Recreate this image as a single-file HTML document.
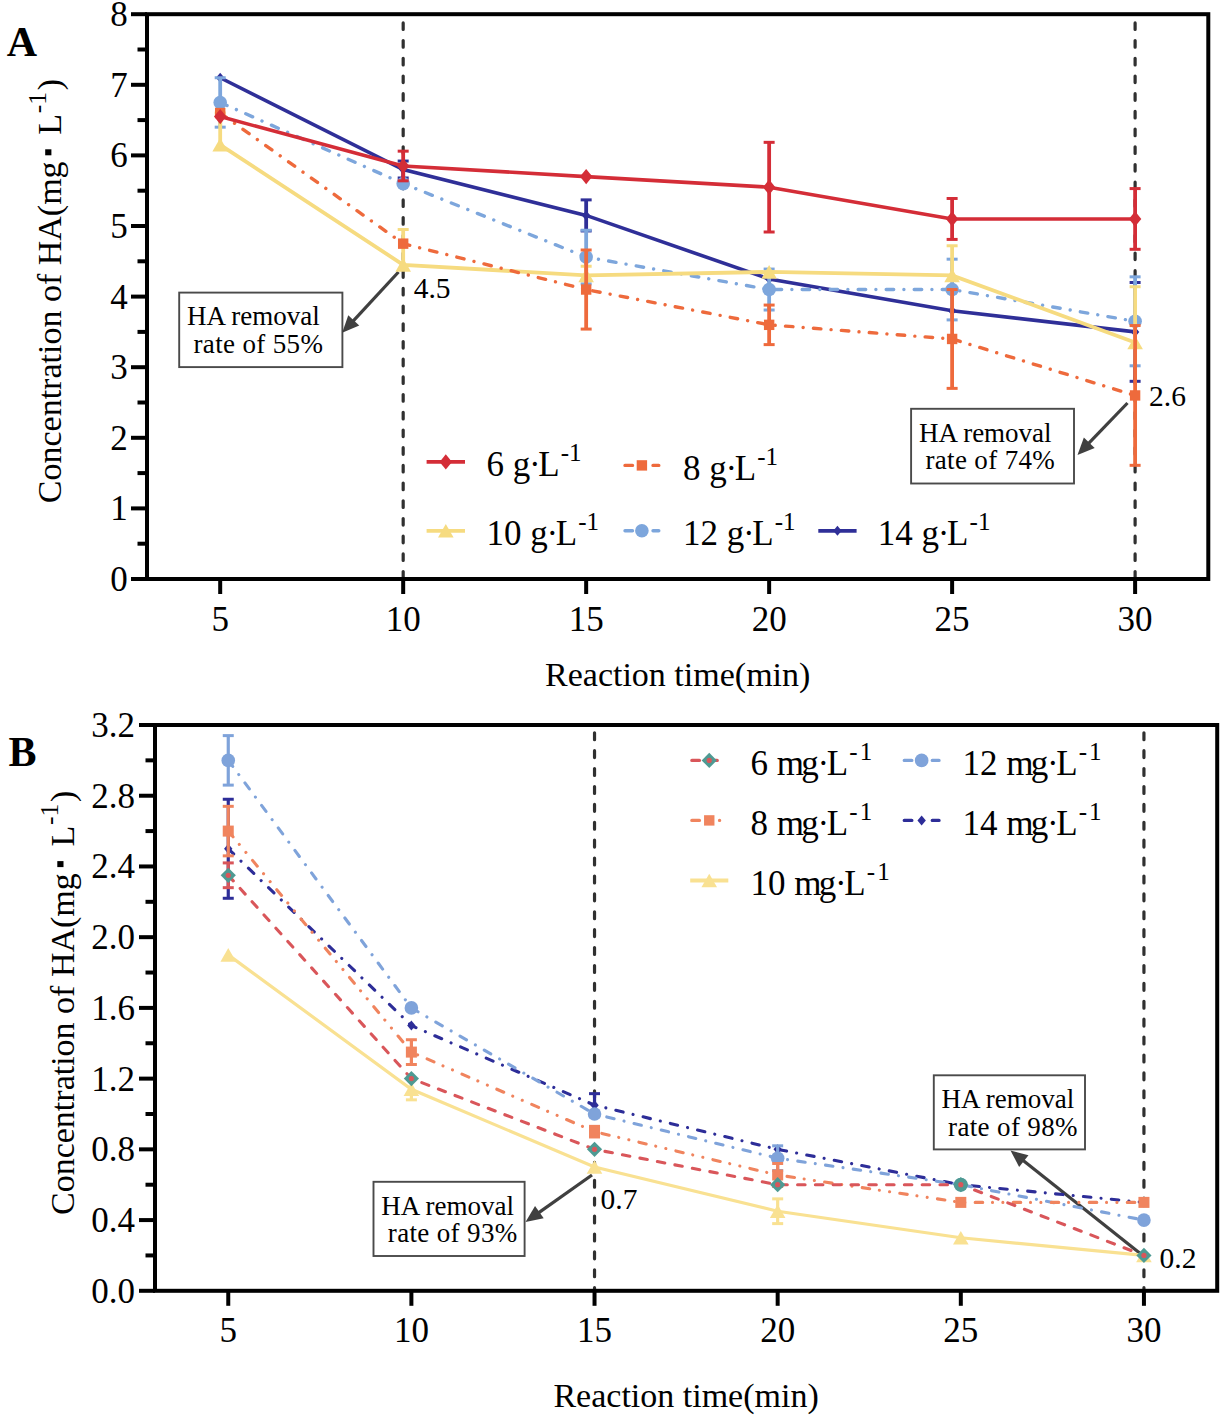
<!DOCTYPE html><html><head><meta charset="utf-8"><style>html,body{margin:0;padding:0;background:#fff;}svg{display:block;}text{font-family:"Liberation Serif", serif;fill:#000;}</style></head><body>
<svg width="1221" height="1419" viewBox="0 0 1221 1419">
<rect width="1221" height="1419" fill="#fff"/>
<path d="M403.18 22.9V577" stroke="#303030" stroke-width="3.2" stroke-dasharray="6.6 11.1" stroke-linecap="round"/>
<path d="M1135.11 22.9V577" stroke="#303030" stroke-width="3.2" stroke-dasharray="6.6 11.1" stroke-linecap="round"/>
<rect x="179.2" y="292.6" width="163.2" height="74.5" fill="#fff" stroke="#4a4a4a" stroke-width="1.9"/>
<text x="187" y="325.3" font-size="27" text-anchor="start" font-weight="normal">HA removal</text>
<text x="193.5" y="353.1" font-size="27" text-anchor="start" font-weight="normal" letter-spacing="0.35">rate of 55%</text>
<path d="M398.5 272L352.39 321.79" stroke="#404040" stroke-width="3.2"/>
<path d="M342.2 332.8L348.25 315.23L359.25 325.42Z" fill="#404040"/>
<rect x="911.1" y="408.8" width="162.9" height="74.7" fill="#fff" stroke="#4a4a4a" stroke-width="1.9"/>
<text x="918.9" y="441.5" font-size="27" text-anchor="start" font-weight="normal">HA removal</text>
<text x="925.4" y="469.3" font-size="27" text-anchor="start" font-weight="normal" letter-spacing="0.35">rate of 74%</text>
<path d="M1127.5 403L1087.9 444.19" stroke="#404040" stroke-width="3.2"/>
<path d="M1077.5 455L1083.88 437.55L1094.69 447.94Z" fill="#404040"/>
<path d="M220.19 77.74L403.18 169.52L586.16 215.41L769.14 278.95L952.12 310.72L1135.11 331.9" fill="none" stroke="#2F2F98" stroke-width="3.6"/>
<path d="M403.18 161.05V177.99" stroke="#2F2F98" stroke-width="3.8"/>
<path d="M397.68 161.05H408.68" stroke="#2F2F98" stroke-width="3"/>
<path d="M397.68 177.99H408.68" stroke="#2F2F98" stroke-width="3"/>
<path d="M586.16 199.88V230.94" stroke="#2F2F98" stroke-width="3.8"/>
<path d="M580.66 199.88H591.66" stroke="#2F2F98" stroke-width="3"/>
<path d="M580.66 230.94H591.66" stroke="#2F2F98" stroke-width="3"/>
<path d="M1135.11 282.48V381.32" stroke="#2F2F98" stroke-width="3.8"/>
<path d="M1129.61 282.48H1140.61" stroke="#2F2F98" stroke-width="3"/>
<path d="M1129.61 381.32H1140.61" stroke="#2F2F98" stroke-width="3"/>
<path d="M220.19 72.74L224.39 77.74L220.19 82.74L215.99 77.74Z" fill="#2F2F98"/>
<path d="M403.18 164.52L407.38 169.52L403.18 174.52L398.98 169.52Z" fill="#2F2F98"/>
<path d="M586.16 210.41L590.36 215.41L586.16 220.41L581.96 215.41Z" fill="#2F2F98"/>
<path d="M769.14 273.95L773.34 278.95L769.14 283.95L764.94 278.95Z" fill="#2F2F98"/>
<path d="M952.12 305.72L956.32 310.72L952.12 315.72L947.92 310.72Z" fill="#2F2F98"/>
<path d="M1135.11 326.9L1139.31 331.9L1135.11 336.9L1130.91 331.9Z" fill="#2F2F98"/>
<path d="M220.19 102.45L403.18 183.64L586.16 257.06L769.14 289.54L952.12 289.54L1135.11 321.31" fill="none" stroke="#7DA6DC" stroke-width="3.4" stroke-dasharray="7.5 10.2 0.01 10.3" stroke-linecap="round"/>
<path d="M220.19 77.74V127.16" stroke="#7DA6DC" stroke-width="3.8"/>
<path d="M214.69 77.74H225.69" stroke="#7DA6DC" stroke-width="3"/>
<path d="M214.69 127.16H225.69" stroke="#7DA6DC" stroke-width="3"/>
<path d="M586.16 230.24V283.89" stroke="#7DA6DC" stroke-width="3.8"/>
<path d="M580.66 230.24H591.66" stroke="#7DA6DC" stroke-width="3"/>
<path d="M580.66 283.89H591.66" stroke="#7DA6DC" stroke-width="3"/>
<path d="M769.14 269.07V310.01" stroke="#7DA6DC" stroke-width="3.8"/>
<path d="M763.64 269.07H774.64" stroke="#7DA6DC" stroke-width="3"/>
<path d="M763.64 310.01H774.64" stroke="#7DA6DC" stroke-width="3"/>
<path d="M952.12 259.18V319.9" stroke="#7DA6DC" stroke-width="3.8"/>
<path d="M946.62 259.18H957.62" stroke="#7DA6DC" stroke-width="3"/>
<path d="M946.62 319.9H957.62" stroke="#7DA6DC" stroke-width="3"/>
<path d="M1135.11 276.83V365.79" stroke="#7DA6DC" stroke-width="3.8"/>
<path d="M1129.61 276.83H1140.61" stroke="#7DA6DC" stroke-width="3"/>
<path d="M1129.61 365.79H1140.61" stroke="#7DA6DC" stroke-width="3"/>
<circle cx="220.19" cy="102.45" r="6.8" fill="#7DA6DC"/>
<circle cx="403.18" cy="183.64" r="6.8" fill="#7DA6DC"/>
<circle cx="586.16" cy="257.06" r="6.8" fill="#7DA6DC"/>
<circle cx="769.14" cy="289.54" r="6.8" fill="#7DA6DC"/>
<circle cx="952.12" cy="289.54" r="6.8" fill="#7DA6DC"/>
<circle cx="1135.11" cy="321.31" r="6.8" fill="#7DA6DC"/>
<path d="M220.19 144.81L403.18 264.83L586.16 275.42L769.14 271.89L952.12 275.42L1135.11 342.49" fill="none" stroke="#F6DB80" stroke-width="3.8"/>
<path d="M220.19 113.04V144.81" stroke="#F6DB80" stroke-width="3.8"/>
<path d="M214.69 113.04H225.69" stroke="#F6DB80" stroke-width="3"/>
<path d="M403.18 229.53V264.83" stroke="#F6DB80" stroke-width="3.8"/>
<path d="M397.68 229.53H408.68" stroke="#F6DB80" stroke-width="3"/>
<path d="M586.16 266.24V275.42" stroke="#F6DB80" stroke-width="3.8"/>
<path d="M580.66 266.24H591.66" stroke="#F6DB80" stroke-width="3"/>
<path d="M952.12 245.77V275.42" stroke="#F6DB80" stroke-width="3.8"/>
<path d="M946.62 245.77H957.62" stroke="#F6DB80" stroke-width="3"/>
<path d="M1135.11 286.72V342.49" stroke="#F6DB80" stroke-width="3.8"/>
<path d="M1129.61 286.72H1140.61" stroke="#F6DB80" stroke-width="3"/>
<path d="M220.19 138.01L227.99 151.61L212.39 151.61Z" fill="#F6DB80"/>
<path d="M403.18 258.03L410.98 271.63L395.38 271.63Z" fill="#F6DB80"/>
<path d="M586.16 268.62L593.96 282.22L578.36 282.22Z" fill="#F6DB80"/>
<path d="M769.14 265.09L776.94 278.69L761.34 278.69Z" fill="#F6DB80"/>
<path d="M952.12 268.62L959.92 282.22L944.32 282.22Z" fill="#F6DB80"/>
<path d="M1135.11 335.69L1142.91 349.29L1127.31 349.29Z" fill="#F6DB80"/>
<path d="M220.19 113.04L403.18 243.65L586.16 289.54L769.14 324.84L952.12 338.96L1135.11 395.44" fill="none" stroke="#EE6A3C" stroke-width="3.4" stroke-dasharray="7.5 10.2 0.01 10.3" stroke-linecap="round"/>
<path d="M586.16 250V329.08" stroke="#EE6A3C" stroke-width="3.8"/>
<path d="M580.66 250H591.66" stroke="#EE6A3C" stroke-width="3"/>
<path d="M580.66 329.08H591.66" stroke="#EE6A3C" stroke-width="3"/>
<path d="M769.14 305.07V344.61" stroke="#EE6A3C" stroke-width="3.8"/>
<path d="M763.64 305.07H774.64" stroke="#EE6A3C" stroke-width="3"/>
<path d="M763.64 344.61H774.64" stroke="#EE6A3C" stroke-width="3"/>
<path d="M952.12 289.54V388.38" stroke="#EE6A3C" stroke-width="3.8"/>
<path d="M946.62 289.54H957.62" stroke="#EE6A3C" stroke-width="3"/>
<path d="M946.62 388.38H957.62" stroke="#EE6A3C" stroke-width="3"/>
<path d="M1135.11 325.55V465.33" stroke="#EE6A3C" stroke-width="3.8"/>
<path d="M1129.61 325.55H1140.61" stroke="#EE6A3C" stroke-width="3"/>
<path d="M1129.61 465.33H1140.61" stroke="#EE6A3C" stroke-width="3"/>
<rect x="214.99" y="107.84" width="10.4" height="10.4" fill="#EE6A3C"/>
<rect x="397.98" y="238.45" width="10.4" height="10.4" fill="#EE6A3C"/>
<rect x="580.96" y="284.34" width="10.4" height="10.4" fill="#EE6A3C"/>
<rect x="763.94" y="319.64" width="10.4" height="10.4" fill="#EE6A3C"/>
<rect x="946.92" y="333.76" width="10.4" height="10.4" fill="#EE6A3C"/>
<rect x="1129.91" y="390.24" width="10.4" height="10.4" fill="#EE6A3C"/>
<path d="M220.19 116.57L403.18 165.99L586.16 176.58L769.14 187.17L952.12 218.94L1135.11 218.94" fill="none" stroke="#D42D37" stroke-width="3.6"/>
<path d="M403.18 151.16V180.82" stroke="#D42D37" stroke-width="3.8"/>
<path d="M397.68 151.16H408.68" stroke="#D42D37" stroke-width="3"/>
<path d="M397.68 180.82H408.68" stroke="#D42D37" stroke-width="3"/>
<path d="M769.14 142.34V232" stroke="#D42D37" stroke-width="3.8"/>
<path d="M763.64 142.34H774.64" stroke="#D42D37" stroke-width="3"/>
<path d="M763.64 232H774.64" stroke="#D42D37" stroke-width="3"/>
<path d="M952.12 198.47V239.41" stroke="#D42D37" stroke-width="3.8"/>
<path d="M946.62 198.47H957.62" stroke="#D42D37" stroke-width="3"/>
<path d="M946.62 239.41H957.62" stroke="#D42D37" stroke-width="3"/>
<path d="M1135.11 188.58V249.3" stroke="#D42D37" stroke-width="3.8"/>
<path d="M1129.61 188.58H1140.61" stroke="#D42D37" stroke-width="3"/>
<path d="M1129.61 249.3H1140.61" stroke="#D42D37" stroke-width="3"/>
<path d="M220.19 108.97L226.39 116.57L220.19 124.17L213.99 116.57Z" fill="#D42D37"/>
<path d="M403.18 158.39L409.38 165.99L403.18 173.59L396.98 165.99Z" fill="#D42D37"/>
<path d="M586.16 168.98L592.36 176.58L586.16 184.18L579.96 176.58Z" fill="#D42D37"/>
<path d="M769.14 179.57L775.34 187.17L769.14 194.77L762.94 187.17Z" fill="#D42D37"/>
<path d="M952.12 211.34L958.32 218.94L952.12 226.54L945.92 218.94Z" fill="#D42D37"/>
<path d="M1135.11 211.34L1141.31 218.94L1135.11 226.54L1128.91 218.94Z" fill="#D42D37"/>
<rect x="147" y="14.2" width="1061.3" height="564.8" fill="none" stroke="#000" stroke-width="4"/>
<path d="M131 579H147" stroke="#000" stroke-width="4"/>
<path d="M131 508.4H147" stroke="#000" stroke-width="4"/>
<path d="M131 437.8H147" stroke="#000" stroke-width="4"/>
<path d="M131 367.2H147" stroke="#000" stroke-width="4"/>
<path d="M131 296.6H147" stroke="#000" stroke-width="4"/>
<path d="M131 226H147" stroke="#000" stroke-width="4"/>
<path d="M131 155.4H147" stroke="#000" stroke-width="4"/>
<path d="M131 84.8H147" stroke="#000" stroke-width="4"/>
<path d="M131 14.2H147" stroke="#000" stroke-width="4"/>
<path d="M137.5 543.7H147" stroke="#000" stroke-width="4"/>
<path d="M137.5 473.1H147" stroke="#000" stroke-width="4"/>
<path d="M137.5 402.5H147" stroke="#000" stroke-width="4"/>
<path d="M137.5 331.9H147" stroke="#000" stroke-width="4"/>
<path d="M137.5 261.3H147" stroke="#000" stroke-width="4"/>
<path d="M137.5 190.7H147" stroke="#000" stroke-width="4"/>
<path d="M137.5 120.1H147" stroke="#000" stroke-width="4"/>
<path d="M137.5 49.5H147" stroke="#000" stroke-width="4"/>
<path d="M220.19 579V594" stroke="#000" stroke-width="4"/>
<path d="M403.18 579V594" stroke="#000" stroke-width="4"/>
<path d="M586.16 579V594" stroke="#000" stroke-width="4"/>
<path d="M769.14 579V594" stroke="#000" stroke-width="4"/>
<path d="M952.12 579V594" stroke="#000" stroke-width="4"/>
<path d="M1135.11 579V594" stroke="#000" stroke-width="4"/>
<text x="127.8" y="591" font-size="35" text-anchor="end" font-weight="normal">0</text>
<text x="127.8" y="520.4" font-size="35" text-anchor="end" font-weight="normal">1</text>
<text x="127.8" y="449.8" font-size="35" text-anchor="end" font-weight="normal">2</text>
<text x="127.8" y="379.2" font-size="35" text-anchor="end" font-weight="normal">3</text>
<text x="127.8" y="308.6" font-size="35" text-anchor="end" font-weight="normal">4</text>
<text x="127.8" y="238" font-size="35" text-anchor="end" font-weight="normal">5</text>
<text x="127.8" y="167.4" font-size="35" text-anchor="end" font-weight="normal">6</text>
<text x="127.8" y="96.8" font-size="35" text-anchor="end" font-weight="normal">7</text>
<text x="127.8" y="26.2" font-size="35" text-anchor="end" font-weight="normal">8</text>
<text x="220.19" y="630.5" font-size="35" text-anchor="middle" font-weight="normal">5</text>
<text x="403.18" y="630.5" font-size="35" text-anchor="middle" font-weight="normal">10</text>
<text x="586.16" y="630.5" font-size="35" text-anchor="middle" font-weight="normal">15</text>
<text x="769.14" y="630.5" font-size="35" text-anchor="middle" font-weight="normal">20</text>
<text x="952.12" y="630.5" font-size="35" text-anchor="middle" font-weight="normal">25</text>
<text x="1135.11" y="630.5" font-size="35" text-anchor="middle" font-weight="normal">30</text>
<text x="677.7" y="686.2" font-size="34" text-anchor="middle" font-weight="normal">Reaction time(min)</text>
<g transform="translate(61.4 501.8) rotate(-90)">
<text x="-1.4" y="0" font-size="34">Concentration of HA(mg</text>
<rect x="346.5" y="-16.2" width="6" height="6.2" fill="#000"/>
<text x="367" y="0" font-size="34">L</text>
<text x="388.5" y="-15.2" font-size="25.5">-1</text>
<text x="411.5" y="0" font-size="34">)</text>
</g>
<text x="6.8" y="56.2" font-size="42" text-anchor="start" font-weight="bold">A</text>
<path d="M426.6 461.9H465" stroke="#D42D37" stroke-width="3.8"/>
<path d="M445.8 454.3L452 461.9L445.8 469.5L439.6 461.9Z" fill="#D42D37"/>
<text x="486.4" y="476.3" font-size="35">6 g<tspan dx="-1.2">·</tspan><tspan dx="-2.4">L</tspan><tspan font-size="25" dx="1.1" dy="-15">-1</tspan></text>
<path d="M625 465.4H658.8" stroke="#EE6A3C" stroke-width="3.4" stroke-dasharray="7.5 10.2 0.01 10.3" stroke-linecap="round"/>
<rect x="636.7" y="460.2" width="10.4" height="10.4" fill="#EE6A3C"/>
<text x="683" y="479.8" font-size="35">8 g<tspan dx="-1.2">·</tspan><tspan dx="-2.4">L</tspan><tspan font-size="25" dx="1.1" dy="-15">-1</tspan></text>
<path d="M426.6 530.8H465" stroke="#F6DB80" stroke-width="3.8"/>
<path d="M445.8 524L453.6 537.6L438 537.6Z" fill="#F6DB80"/>
<text x="486.4" y="545.2" font-size="35">10 g<tspan dx="-1.2">·</tspan><tspan dx="-2.4">L</tspan><tspan font-size="25" dx="1.1" dy="-15">-1</tspan></text>
<path d="M625 530.8H658.8" stroke="#7DA6DC" stroke-width="3.4" stroke-dasharray="7.5 10.2 0.01 10.3" stroke-linecap="round"/>
<circle cx="641.9" cy="530.8" r="6.8" fill="#7DA6DC"/>
<text x="683" y="545.2" font-size="35">12 g<tspan dx="-1.2">·</tspan><tspan dx="-2.4">L</tspan><tspan font-size="25" dx="1.1" dy="-15">-1</tspan></text>
<path d="M818.3 530.8H856.6" stroke="#2F2F98" stroke-width="3.8"/>
<path d="M837.45 525.8L841.65 530.8L837.45 535.8L833.25 530.8Z" fill="#2F2F98"/>
<text x="877.8" y="545.2" font-size="35">14 g<tspan dx="-1.2">·</tspan><tspan dx="-2.4">L</tspan><tspan font-size="25" dx="1.1" dy="-15">-1</tspan></text>
<text x="413.7" y="297.7" font-size="29.5" text-anchor="start" font-weight="normal">4.5</text>
<text x="1149" y="406.2" font-size="29.5" text-anchor="start" font-weight="normal">2.6</text>
<path d="M594.53 732.8V1288.8" stroke="#303030" stroke-width="3.2" stroke-dasharray="6.9 11" stroke-linecap="round"/>
<path d="M1143.94 732.8V1288.8" stroke="#303030" stroke-width="3.2" stroke-dasharray="6.9 11" stroke-linecap="round"/>
<rect x="373.5" y="1181.8" width="151.1" height="74.2" fill="#fff" stroke="#4a4a4a" stroke-width="1.9"/>
<text x="381.3" y="1214.5" font-size="27" text-anchor="start" font-weight="normal">HA removal</text>
<text x="387.8" y="1242.3" font-size="27" text-anchor="start" font-weight="normal" letter-spacing="0.35">rate of 93%</text>
<path d="M592 1175L537.75 1213.34" stroke="#404040" stroke-width="3.2"/>
<path d="M525.5 1222L535.05 1206.06L543.71 1218.31Z" fill="#404040"/>
<rect x="933.8" y="1075.3" width="151.2" height="74.1" fill="#fff" stroke="#4a4a4a" stroke-width="1.9"/>
<text x="941.6" y="1108" font-size="27" text-anchor="start" font-weight="normal">HA removal</text>
<text x="948.1" y="1135.8" font-size="27" text-anchor="start" font-weight="normal" letter-spacing="0.35">rate of 98%</text>
<path d="M1141.5 1254.5L1022.25 1159.83" stroke="#404040" stroke-width="3.2"/>
<path d="M1010.5 1150.5L1028.48 1155.2L1019.15 1166.94Z" fill="#404040"/>
<path d="M228.26 848.77L411.39 1025.58L594.53 1105.15L777.67 1149.35L960.81 1184.71L1143.94 1202.39" fill="none" stroke="#2D2D98" stroke-width="3.1" stroke-dasharray="7.5 10.2 0.01 10.3" stroke-linecap="round"/>
<path d="M228.26 799.26V898.28" stroke="#2D2D98" stroke-width="3.2"/>
<path d="M222.76 799.26H233.76" stroke="#2D2D98" stroke-width="3"/>
<path d="M222.76 898.28H233.76" stroke="#2D2D98" stroke-width="3"/>
<path d="M594.53 1093.65V1116.64" stroke="#2D2D98" stroke-width="3.2"/>
<path d="M589.03 1093.65H600.03" stroke="#2D2D98" stroke-width="3"/>
<path d="M589.03 1116.64H600.03" stroke="#2D2D98" stroke-width="3"/>
<path d="M228.26 843.77L232.46 848.77L228.26 853.77L224.06 848.77Z" fill="#2D2D98"/>
<path d="M411.39 1020.58L415.59 1025.58L411.39 1030.58L407.19 1025.58Z" fill="#2D2D98"/>
<path d="M594.53 1100.15L598.73 1105.15L594.53 1110.15L590.33 1105.15Z" fill="#2D2D98"/>
<path d="M777.67 1144.35L781.87 1149.35L777.67 1154.35L773.47 1149.35Z" fill="#2D2D98"/>
<path d="M960.81 1179.71L965.01 1184.71L960.81 1189.71L956.61 1184.71Z" fill="#2D2D98"/>
<path d="M1143.94 1197.39L1148.14 1202.39L1143.94 1207.39L1139.74 1202.39Z" fill="#2D2D98"/>
<path d="M228.26 760.36L411.39 1007.9L594.53 1113.99L777.67 1158.19L960.81 1184.71L1143.94 1220.08" fill="none" stroke="#7FA3DA" stroke-width="3.1" stroke-dasharray="7.5 10.2 0.01 10.3" stroke-linecap="round"/>
<path d="M228.26 735.61V785.12" stroke="#7FA3DA" stroke-width="3.2"/>
<path d="M222.76 735.61H233.76" stroke="#7FA3DA" stroke-width="3"/>
<path d="M222.76 785.12H233.76" stroke="#7FA3DA" stroke-width="3"/>
<path d="M777.67 1145.81V1170.57" stroke="#7FA3DA" stroke-width="3.2"/>
<path d="M772.17 1145.81H783.17" stroke="#7FA3DA" stroke-width="3"/>
<path d="M772.17 1170.57H783.17" stroke="#7FA3DA" stroke-width="3"/>
<circle cx="228.26" cy="760.36" r="6.8" fill="#7FA3DA"/>
<circle cx="411.39" cy="1007.9" r="6.8" fill="#7FA3DA"/>
<circle cx="594.53" cy="1113.99" r="6.8" fill="#7FA3DA"/>
<circle cx="777.67" cy="1158.19" r="6.8" fill="#7FA3DA"/>
<circle cx="960.81" cy="1184.71" r="6.8" fill="#7FA3DA"/>
<circle cx="1143.94" cy="1220.08" r="6.8" fill="#7FA3DA"/>
<path d="M228.26 954.86L411.39 1089.23L594.53 1167.03L777.67 1211.23L960.81 1237.76L1143.94 1255.44" fill="none" stroke="#F9E192" stroke-width="3.2"/>
<path d="M411.39 1078.62V1099.84" stroke="#F9E192" stroke-width="3.2"/>
<path d="M405.89 1078.62H416.89" stroke="#F9E192" stroke-width="3"/>
<path d="M405.89 1099.84H416.89" stroke="#F9E192" stroke-width="3"/>
<path d="M777.67 1198.86V1223.61" stroke="#F9E192" stroke-width="3.2"/>
<path d="M772.17 1198.86H783.17" stroke="#F9E192" stroke-width="3"/>
<path d="M772.17 1223.61H783.17" stroke="#F9E192" stroke-width="3"/>
<path d="M228.26 948.06L236.06 961.66L220.46 961.66Z" fill="#F9E192"/>
<path d="M411.39 1082.43L419.19 1096.03L403.59 1096.03Z" fill="#F9E192"/>
<path d="M594.53 1160.23L602.33 1173.83L586.73 1173.83Z" fill="#F9E192"/>
<path d="M777.67 1204.43L785.47 1218.03L769.87 1218.03Z" fill="#F9E192"/>
<path d="M960.81 1230.96L968.61 1244.56L953.01 1244.56Z" fill="#F9E192"/>
<path d="M1143.94 1248.64L1151.74 1262.24L1136.14 1262.24Z" fill="#F9E192"/>
<path d="M228.26 831.09L411.39 1052.1L594.53 1131.67L777.67 1174.99L960.81 1202.39L1143.94 1202.39" fill="none" stroke="#F0845E" stroke-width="3.1" stroke-dasharray="7.5 9.8 0.01 10.35 0.01 10.35" stroke-linecap="round"/>
<path d="M228.26 806.33V855.84" stroke="#F0845E" stroke-width="3.2"/>
<path d="M222.76 806.33H233.76" stroke="#F0845E" stroke-width="3"/>
<path d="M222.76 855.84H233.76" stroke="#F0845E" stroke-width="3"/>
<path d="M411.39 1039.73V1064.48" stroke="#F0845E" stroke-width="3.2"/>
<path d="M405.89 1039.73H416.89" stroke="#F0845E" stroke-width="3"/>
<path d="M405.89 1064.48H416.89" stroke="#F0845E" stroke-width="3"/>
<path d="M594.53 1126.36V1136.97" stroke="#F0845E" stroke-width="3.2"/>
<path d="M589.03 1126.36H600.03" stroke="#F0845E" stroke-width="3"/>
<path d="M589.03 1136.97H600.03" stroke="#F0845E" stroke-width="3"/>
<path d="M777.67 1163.49V1186.48" stroke="#F0845E" stroke-width="3.2"/>
<path d="M772.17 1163.49H783.17" stroke="#F0845E" stroke-width="3"/>
<path d="M772.17 1186.48H783.17" stroke="#F0845E" stroke-width="3"/>
<rect x="222.74" y="825.58" width="11.02" height="11.02" fill="#F0845E"/>
<rect x="405.88" y="1046.59" width="11.02" height="11.02" fill="#F0845E"/>
<rect x="589.02" y="1126.16" width="11.02" height="11.02" fill="#F0845E"/>
<rect x="772.16" y="1169.48" width="11.02" height="11.02" fill="#F0845E"/>
<rect x="955.29" y="1196.88" width="11.02" height="11.02" fill="#F0845E"/>
<rect x="1138.43" y="1196.88" width="11.02" height="11.02" fill="#F0845E"/>
<path d="M228.26 875.29L411.39 1078.62L594.53 1149.35L777.67 1184.71L960.81 1184.71L1143.94 1255.44" fill="none" stroke="#D9565A" stroke-width="3.1" stroke-dasharray="7.5 10.3" stroke-linecap="round"/>
<path d="M228.26 862.91V887.67" stroke="#D9565A" stroke-width="3.2"/>
<path d="M222.76 862.91H233.76" stroke="#D9565A" stroke-width="3"/>
<path d="M222.76 887.67H233.76" stroke="#D9565A" stroke-width="3"/>
<path d="M228.26 867.69L235.86 875.29L228.26 882.89L220.66 875.29Z" fill="#4E9A93"/><circle cx="228.26" cy="875.29" r="2.6" fill="#D9565A"/>
<path d="M411.39 1071.03L418.99 1078.62L411.39 1086.22L403.79 1078.62Z" fill="#4E9A93"/><circle cx="411.39" cy="1078.62" r="2.6" fill="#D9565A"/>
<path d="M594.53 1141.75L602.13 1149.35L594.53 1156.95L586.93 1149.35Z" fill="#4E9A93"/><circle cx="594.53" cy="1149.35" r="2.6" fill="#D9565A"/>
<path d="M777.67 1177.11L785.27 1184.71L777.67 1192.31L770.07 1184.71Z" fill="#4E9A93"/><circle cx="777.67" cy="1184.71" r="2.6" fill="#D9565A"/>
<circle cx="960.81" cy="1184.71" r="7" fill="#4E9A93"/>
<path d="M960.81 1177.11L968.41 1184.71L960.81 1192.31L953.21 1184.71Z" fill="#4E9A93"/><circle cx="960.81" cy="1184.71" r="2.6" fill="#D9565A"/>
<path d="M1143.94 1247.84L1151.54 1255.44L1143.94 1263.04L1136.34 1255.44Z" fill="#4E9A93"/><circle cx="1143.94" cy="1255.44" r="2.6" fill="#D9565A"/>
<rect x="155" y="725" width="1062.2" height="565.8" fill="none" stroke="#000" stroke-width="4"/>
<path d="M139 1290.8H155" stroke="#000" stroke-width="4"/>
<path d="M139 1220.08H155" stroke="#000" stroke-width="4"/>
<path d="M139 1149.35H155" stroke="#000" stroke-width="4"/>
<path d="M139 1078.62H155" stroke="#000" stroke-width="4"/>
<path d="M139 1007.9H155" stroke="#000" stroke-width="4"/>
<path d="M139 937.17H155" stroke="#000" stroke-width="4"/>
<path d="M139 866.45H155" stroke="#000" stroke-width="4"/>
<path d="M139 795.73H155" stroke="#000" stroke-width="4"/>
<path d="M139 725H155" stroke="#000" stroke-width="4"/>
<path d="M145.5 1255.44H155" stroke="#000" stroke-width="4"/>
<path d="M145.5 1184.71H155" stroke="#000" stroke-width="4"/>
<path d="M145.5 1113.99H155" stroke="#000" stroke-width="4"/>
<path d="M145.5 1043.26H155" stroke="#000" stroke-width="4"/>
<path d="M145.5 972.54H155" stroke="#000" stroke-width="4"/>
<path d="M145.5 901.81H155" stroke="#000" stroke-width="4"/>
<path d="M145.5 831.09H155" stroke="#000" stroke-width="4"/>
<path d="M145.5 760.36H155" stroke="#000" stroke-width="4"/>
<path d="M228.26 1290.8V1305.8" stroke="#000" stroke-width="4"/>
<path d="M411.39 1290.8V1305.8" stroke="#000" stroke-width="4"/>
<path d="M594.53 1290.8V1305.8" stroke="#000" stroke-width="4"/>
<path d="M777.67 1290.8V1305.8" stroke="#000" stroke-width="4"/>
<path d="M960.81 1290.8V1305.8" stroke="#000" stroke-width="4"/>
<path d="M1143.94 1290.8V1305.8" stroke="#000" stroke-width="4"/>
<text x="135" y="1302.8" font-size="35" text-anchor="end" font-weight="normal">0.0</text>
<text x="135" y="1232.08" font-size="35" text-anchor="end" font-weight="normal">0.4</text>
<text x="135" y="1161.35" font-size="35" text-anchor="end" font-weight="normal">0.8</text>
<text x="135" y="1090.62" font-size="35" text-anchor="end" font-weight="normal">1.2</text>
<text x="135" y="1019.9" font-size="35" text-anchor="end" font-weight="normal">1.6</text>
<text x="135" y="949.17" font-size="35" text-anchor="end" font-weight="normal">2.0</text>
<text x="135" y="878.45" font-size="35" text-anchor="end" font-weight="normal">2.4</text>
<text x="135" y="807.73" font-size="35" text-anchor="end" font-weight="normal">2.8</text>
<text x="135" y="737" font-size="35" text-anchor="end" font-weight="normal">3.2</text>
<text x="228.26" y="1342.3" font-size="35" text-anchor="middle" font-weight="normal">5</text>
<text x="411.39" y="1342.3" font-size="35" text-anchor="middle" font-weight="normal">10</text>
<text x="594.53" y="1342.3" font-size="35" text-anchor="middle" font-weight="normal">15</text>
<text x="777.67" y="1342.3" font-size="35" text-anchor="middle" font-weight="normal">20</text>
<text x="960.81" y="1342.3" font-size="35" text-anchor="middle" font-weight="normal">25</text>
<text x="1143.94" y="1342.3" font-size="35" text-anchor="middle" font-weight="normal">30</text>
<text x="686.1" y="1407.2" font-size="34" text-anchor="middle" font-weight="normal">Reaction time(min)</text>
<g transform="translate(73.5 1213.6) rotate(-90)">
<text x="-1.4" y="0" font-size="34">Concentration of HA(mg</text>
<rect x="346.5" y="-16.2" width="6" height="6.2" fill="#000"/>
<text x="367" y="0" font-size="34">L</text>
<text x="388.5" y="-15.2" font-size="25.5">-1</text>
<text x="411.5" y="0" font-size="34">)</text>
</g>
<text x="8.5" y="765.5" font-size="42" text-anchor="start" font-weight="bold">B</text>
<path d="M691.9 760.4H726.6" stroke="#D9565A" stroke-width="3.4" stroke-dasharray="7.5 10.3" stroke-linecap="round"/>
<path d="M709.25 752.8L716.85 760.4L709.25 768L701.65 760.4Z" fill="#4E9A93"/><circle cx="709.25" cy="760.4" r="2.6" fill="#D9565A"/>
<text x="750.6" y="774.8" font-size="35">6 m<tspan dx="-2.8">g</tspan><tspan dx="-1.2">·</tspan><tspan dx="-2.4">L</tspan><tspan font-size="25" dx="1.1" dy="-15">-<tspan dx="2">1</tspan></tspan></text>
<path d="M691.9 820.4H726.6" stroke="#F0845E" stroke-width="3.4" stroke-dasharray="7.5 9.8 0.01 10.35 0.01 10.35" stroke-linecap="round"/>
<rect x="704.05" y="815.2" width="10.4" height="10.4" fill="#F0845E"/>
<text x="750.6" y="834.8" font-size="35">8 m<tspan dx="-2.8">g</tspan><tspan dx="-1.2">·</tspan><tspan dx="-2.4">L</tspan><tspan font-size="25" dx="1.1" dy="-15">-<tspan dx="2">1</tspan></tspan></text>
<path d="M690.2 880.5H728.3" stroke="#F9E192" stroke-width="3.8"/>
<path d="M709.25 873.7L717.05 887.3L701.45 887.3Z" fill="#F9E192"/>
<text x="750.6" y="894.9" font-size="35">10 m<tspan dx="-2.8">g</tspan><tspan dx="-1.2">·</tspan><tspan dx="-2.4">L</tspan><tspan font-size="25" dx="1.1" dy="-15">-<tspan dx="2">1</tspan></tspan></text>
<path d="M904.3 760.4H939" stroke="#7FA3DA" stroke-width="3.4" stroke-dasharray="7.5 10.2 0.01 10.3" stroke-linecap="round"/>
<circle cx="921.65" cy="760.4" r="6.8" fill="#7FA3DA"/>
<text x="962.5" y="774.8" font-size="35">12 m<tspan dx="-2.8">g</tspan><tspan dx="-1.2">·</tspan><tspan dx="-2.4">L</tspan><tspan font-size="25" dx="1.1" dy="-15">-<tspan dx="2">1</tspan></tspan></text>
<path d="M904.3 820.4H939" stroke="#2D2D98" stroke-width="3.4" stroke-dasharray="7.5 10.2 0.01 10.3" stroke-linecap="round"/>
<path d="M921.65 815.4L925.85 820.4L921.65 825.4L917.45 820.4Z" fill="#2D2D98"/>
<text x="962.5" y="834.8" font-size="35">14 m<tspan dx="-2.8">g</tspan><tspan dx="-1.2">·</tspan><tspan dx="-2.4">L</tspan><tspan font-size="25" dx="1.1" dy="-15">-<tspan dx="2">1</tspan></tspan></text>
<text x="600.5" y="1209.3" font-size="29.5" text-anchor="start" font-weight="normal">0.7</text>
<text x="1159.5" y="1267.8" font-size="29.5" text-anchor="start" font-weight="normal">0.2</text>
</svg></body></html>
